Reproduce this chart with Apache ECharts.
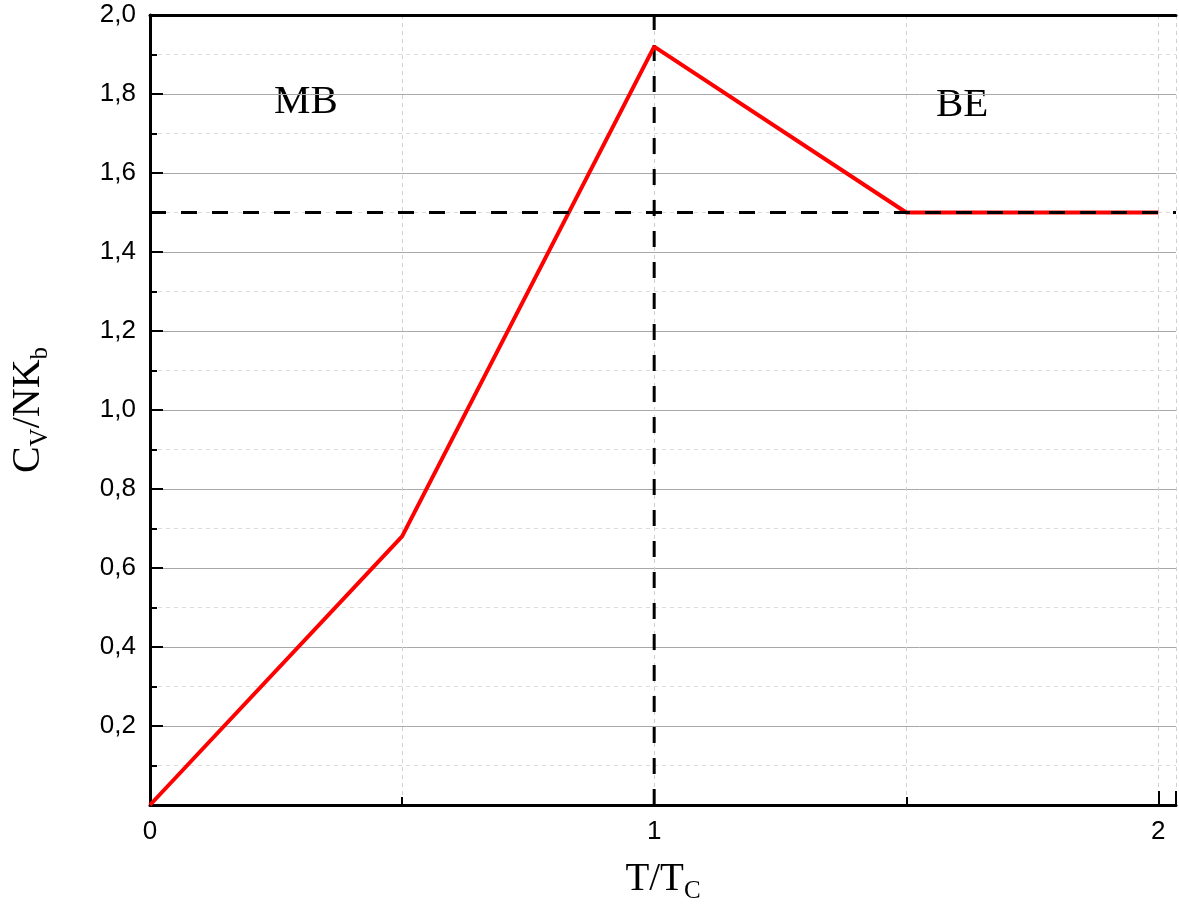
<!DOCTYPE html>
<html>
<head>
<meta charset="utf-8">
<script src="https://cdn.jsdelivr.net/npm/echarts@6/dist/echarts.min.js"></script>
<style>
html,body{margin:0;padding:0;background:#fff;}
#main{width:1179px;height:921px;}
</style>
</head>
<body>
<div id="main"></div>
<script>
// T/Tc and Cv/NKb points of the red curve
var tRatio = [0, 0.5, 1, 1.5, 2];
var cv = [0, 0.68, 1.92, 1.5, 1.5];
// dashed guide lines
var hLineX = [0, 2.035];
var hLineY = [1.5, 1.5];
var vLineX = [1, 1];
var vLineY = [0, 2];
var regionLabels = ['MB', 'BE'];

function pairs(xs, ys) {
    var out = [];
    for (var i = 0; i < xs.length; i++) {
        out.push([xs[i], ys[i]]);
    }
    return out;
}

var myChart = echarts.init(document.getElementById("main"));
myChart.setOption({
    animation: false,
    backgroundColor: '#fff',
    grid: {
        left: 150,
        right: 0,
        top: 15,
        bottom: 116
    },
    graphic: [{
        type: 'text',
        left: 274,
        top: 82,
        style: {text: regionLabels[0], font: '41px "Liberation Serif"', fill: '#000'}
    }, {
        type: 'text',
        left: 936,
        top: 85,
        style: {text: regionLabels[1], font: '41px "Liberation Serif"', fill: '#000'}
    }],
    xAxis: [{
        type: 'value',
        min: 0,
        max: 2.035,
        interval: 1,
        name: '{n|T/T}{s|C}',
        nameLocation: 'middle',
        nameGap: 50,
        nameTextStyle: {
            rich: {
                n: {fontFamily: 'Liberation Serif', fontSize: 39, color: '#000'},
                s: {fontFamily: 'Liberation Serif', fontSize: 25, color: '#000', verticalAlign: 'bottom', padding: [24, 0, 0, 0]}
            }
        },
        axisLine: {lineStyle: {color: '#000', width: 3}},
        axisTick: {inside: true, length: 14, lineStyle: {color: '#000', width: 2}},
        minorTick: {show: true, splitNumber: 2, length: 8, lineStyle: {color: '#000', width: 2}},
        axisLabel: {
            margin: 14,
            fontFamily: 'Liberation Sans',
            fontSize: 26,
            color: '#000',
            formatter: function (v) {
                return Math.abs(v - Math.round(v)) < 1e-6 ? String(Math.round(v)) : '';
            }
        },
        splitLine: {show: true, lineStyle: {color: '#d0d0d0', type: [4, 4], width: 1}},
        minorSplitLine: {show: true, lineStyle: {color: '#d0d0d0', type: [4, 4], width: 1}}
    }, {
        type: 'value',
        position: 'top',
        min: 0,
        max: 2.035,
        axisLine: {show: true, lineStyle: {color: '#000', width: 3}},
        axisTick: {show: false},
        axisLabel: {show: false},
        splitLine: {show: false}
    }],
    yAxis: [{
        type: 'value',
        min: 0,
        max: 2,
        interval: 0.2,
        name: '{n|C}{s|V}{n|/NK}{s|b}',
        nameLocation: 'middle',
        nameRotate: 90,
        nameGap: 97,
        nameTextStyle: {
            rich: {
                n: {fontFamily: 'Liberation Serif', fontSize: 40, color: '#000'},
                s: {fontFamily: 'Liberation Serif', fontSize: 25, color: '#000', verticalAlign: 'bottom', padding: [24, 0, 0, 0]}
            }
        },
        axisLine: {show: true, lineStyle: {color: '#000', width: 3}},
        axisTick: {inside: true, length: 13, lineStyle: {color: '#000', width: 2}},
        minorTick: {show: true, splitNumber: 2, length: 7, lineStyle: {color: '#000', width: 2}},
        axisLabel: {
            margin: 14,
            fontFamily: 'Liberation Sans',
            fontSize: 26,
            color: '#000',
            formatter: function (v) {
                if (v === 0) return '';
                return v.toFixed(1).replace('.', ',');
            }
        },
        splitLine: {show: true, lineStyle: {color: '#a8a8a8', width: 1}},
        minorSplitLine: {show: true, lineStyle: {color: '#dcdcdc', type: [4, 4], width: 1}}
    }],
    series: [{
        name: 'Cv',
        type: 'line',
        data: pairs(tRatio, cv),
        symbol: 'none',
        lineStyle: {color: '#ff0000', width: 4},
        z: 3
    }, {
        name: 'h',
        type: 'line',
        data: pairs(hLineX, hLineY),
        symbol: 'none',
        lineStyle: {color: '#000', width: 3, type: [16, 15]},
        z: 4
    }, {
        name: 'v',
        type: 'line',
        data: pairs(vLineX, vLineY),
        symbol: 'none',
        lineStyle: {color: '#000', width: 3, type: [16, 15]},
        z: 2
    }]
});
</script>
</body>
</html>
